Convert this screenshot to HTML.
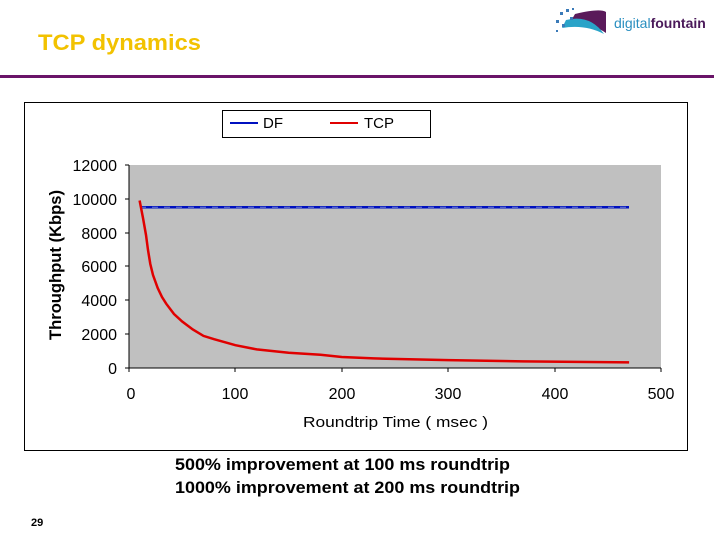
<!DOCTYPE html>
<html><head><meta charset="utf-8"><style>
body{margin:0;width:719px;height:539px;background:#fff;overflow:hidden;font-family:"Liberation Sans",Arial,sans-serif}
</style></head><body>
<svg width="719" height="539" xmlns="http://www.w3.org/2000/svg" font-family="Liberation Sans, Arial, sans-serif">
<text x="38" y="50" font-size="22" font-weight="bold" fill="#f2c200" textLength="163" lengthAdjust="spacingAndGlyphs">TCP dynamics</text>
<rect x="0" y="75" width="714" height="3" fill="#6a1468"/>
<g>
<path d="M575 14 Q600 8 606 12 L606 33 Q590 22 568 26 Z" fill="#5a1a5a"/>
<path d="M566 20 Q590 14 604 34 Q585 24 562 28 Z" fill="#29a3c8"/>
<g fill="#3a7ab8">
<rect x="560" y="12" width="3" height="3"/><rect x="566" y="9" width="3" height="3"/><rect x="556" y="20" width="3" height="3"/><rect x="562" y="24" width="3" height="3"/><rect x="570" y="17" width="3" height="3"/><rect x="556" y="30" width="2" height="2"/><rect x="572" y="8" width="2" height="2"/></g>
<text x="614" y="28" font-size="14" fill="#2a8fc0">digital<tspan fill="#4b1a5a" font-weight="bold">fountain</tspan></text>
</g>
<rect x="24.5" y="102.5" width="663" height="348" fill="#fff" stroke="#000" stroke-width="1"/>
<rect x="222.5" y="110.5" width="208" height="27" fill="#fff" stroke="#000"/>
<line x1="230" y1="123" x2="258" y2="123" stroke="#0010c0" stroke-width="2"/>
<text x="263" y="128" font-size="15">DF</text>
<line x1="330" y1="123" x2="358" y2="123" stroke="#e00000" stroke-width="2"/>
<text x="364" y="128" font-size="15">TCP</text>
<rect x="129" y="165" width="532" height="203" fill="#c0c0c0"/>
<line x1="129" y1="165" x2="129" y2="368" stroke="#000"/>
<line x1="129" y1="368" x2="661" y2="368" stroke="#000"/>
<g stroke="#000">
<line x1="125" y1="165" x2="129" y2="165"/><line x1="125" y1="199" x2="129" y2="199"/><line x1="125" y1="233" x2="129" y2="233"/><line x1="125" y1="266" x2="129" y2="266"/><line x1="125" y1="300" x2="129" y2="300"/><line x1="125" y1="334" x2="129" y2="334"/><line x1="125" y1="368" x2="129" y2="368"/>
<line x1="129" y1="368" x2="129" y2="372"/><line x1="235" y1="368" x2="235" y2="372"/><line x1="342" y1="368" x2="342" y2="372"/><line x1="448" y1="368" x2="448" y2="372"/><line x1="555" y1="368" x2="555" y2="372"/><line x1="661" y1="368" x2="661" y2="372"/>
</g>
<g font-size="16" text-anchor="end">
<text x="117" y="171">12000</text><text x="117" y="205">10000</text><text x="117" y="239">8000</text><text x="117" y="272">6000</text><text x="117" y="306">4000</text><text x="117" y="340">2000</text><text x="117" y="374">0</text>
</g>
<g font-size="16" text-anchor="middle">
<text x="131" y="399">0</text><text x="235" y="399">100</text><text x="342" y="399">200</text><text x="448" y="399">300</text><text x="555" y="399">400</text><text x="661" y="399">500</text>
</g>
<text x="303" y="427" font-size="15" textLength="185" lengthAdjust="spacingAndGlyphs">Roundtrip Time ( msec )</text>
<text transform="translate(61,340) rotate(-90)" font-size="17" font-weight="bold" textLength="150" lengthAdjust="spacingAndGlyphs">Throughput (Kbps)</text>
<line x1="140" y1="207.3" x2="629" y2="207.3" stroke="#0010c0" stroke-width="2.5"/>
<line x1="140" y1="207.3" x2="629" y2="207.3" stroke="#7080d0" stroke-width="1" stroke-dasharray="6 6"/>
<polyline fill="none" stroke="#e00000" stroke-width="2.5" points="139.6,200.5 143,218 146,235 148,250 150.3,264 153,275 157.7,288 162,297 166.2,303.7 174,314 182.2,321.5 192.8,329.5 203.5,335.9 214.1,339.2 235.4,345.2 256.7,349.4 288.6,352.8 320.5,354.8 341.8,357 373.7,358.4 448.2,360.1 522.7,361.4 629.1,362.4"/>
<g font-size="17" font-weight="bold">
<text x="175" y="470" textLength="335" lengthAdjust="spacingAndGlyphs">500% improvement at 100 ms roundtrip</text>
<text x="175" y="493" textLength="345" lengthAdjust="spacingAndGlyphs">1000% improvement at 200 ms roundtrip</text>
</g>
<text x="31" y="526" font-size="11" font-weight="bold">29</text>
</svg>
</body></html>
